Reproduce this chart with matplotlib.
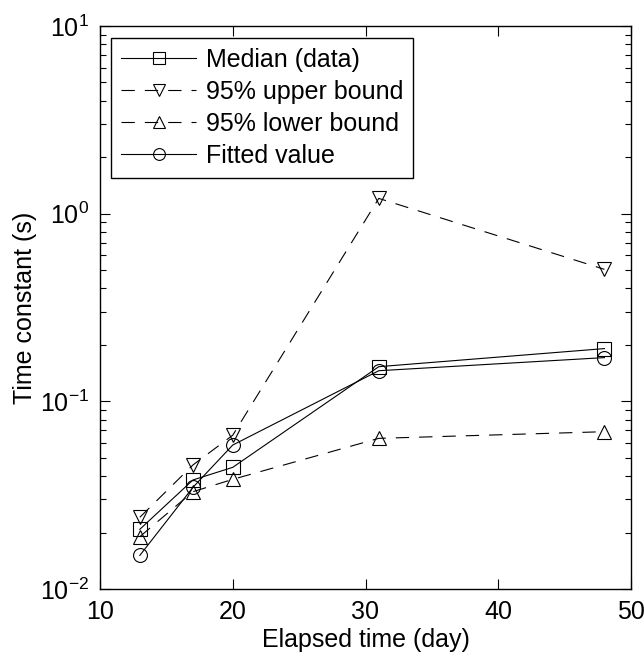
import matplotlib
matplotlib.use("Agg")
import matplotlib.pyplot as plt
from matplotlib.ticker import LogLocator, FixedLocator

plt.rcParams['font.family'] = ['Liberation Sans', 'DejaVu Sans']
plt.rcParams['mathtext.default'] = 'regular'
plt.rcParams['font.size'] = 18

days = [13, 17, 20, 31, 48]
median_data = [0.0208, 0.0381, 0.0445, 0.153, 0.191]
upper_bound = [0.0241, 0.0458, 0.066, 1.206, 0.505]
lower_bound = [0.0190, 0.0330, 0.0384, 0.0635, 0.0689]
fitted_value = [0.0151, 0.0348, 0.0585, 0.1456, 0.171]

labels = ["Median (data)", "95% upper bound", "95% lower bound", "Fitted value"]
xticks = [10, 20, 30, 40, 50]

fig = plt.figure(figsize=(6.44, 6.58), dpi=100)
ax = fig.add_axes([100/644, 1-589/658, 531/644, 563/658])

ms = 10
lw = 0.8
common = dict(color='black', markerfacecolor='none', markeredgecolor='black',
              markersize=ms, linewidth=lw, markeredgewidth=0.8)
ax.plot(days, median_data, marker='s', linestyle='-', label=labels[0], **common)
ax.plot(days, upper_bound, marker='v', dashes=(12, 9), label=labels[1], **common)
ax.plot(days, lower_bound, marker='^', dashes=(12, 9), label=labels[2], **common)
ax.plot(days, fitted_value, marker='o', linestyle='-', label=labels[3], **common)

ax.set_yscale('log')
ax.set_xlim(10, 50)
ax.set_ylim(1e-2, 1e1)
ax.xaxis.set_major_locator(FixedLocator(xticks))
ax.yaxis.set_major_locator(LogLocator(base=10, numticks=10))
ax.yaxis.set_minor_locator(LogLocator(base=10, subs=range(2, 10), numticks=20))
ax.tick_params(which='both', direction='in', top=True, right=True, width=0.8)
ax.tick_params(which='major', length=7, pad=8)
ax.tick_params(which='minor', length=4)
for s in ax.spines.values():
    s.set_linewidth(1.0)

ax.set_xlabel("Elapsed time (day)", labelpad=3)
ax.set_ylabel("Time constant (s)", labelpad=2)

leg = ax.legend(loc='upper left', bbox_to_anchor=(11/531, 1 - 12/563),
                borderaxespad=0, numpoints=1, handlelength=3.0,
                handletextpad=0.4, labelspacing=0.32, borderpad=0.4,
                markerscale=0.85,
                fancybox=False, framealpha=1, edgecolor='black')
leg.get_frame().set_linewidth(1.0)

fig.savefig("out.png", dpi=100)
